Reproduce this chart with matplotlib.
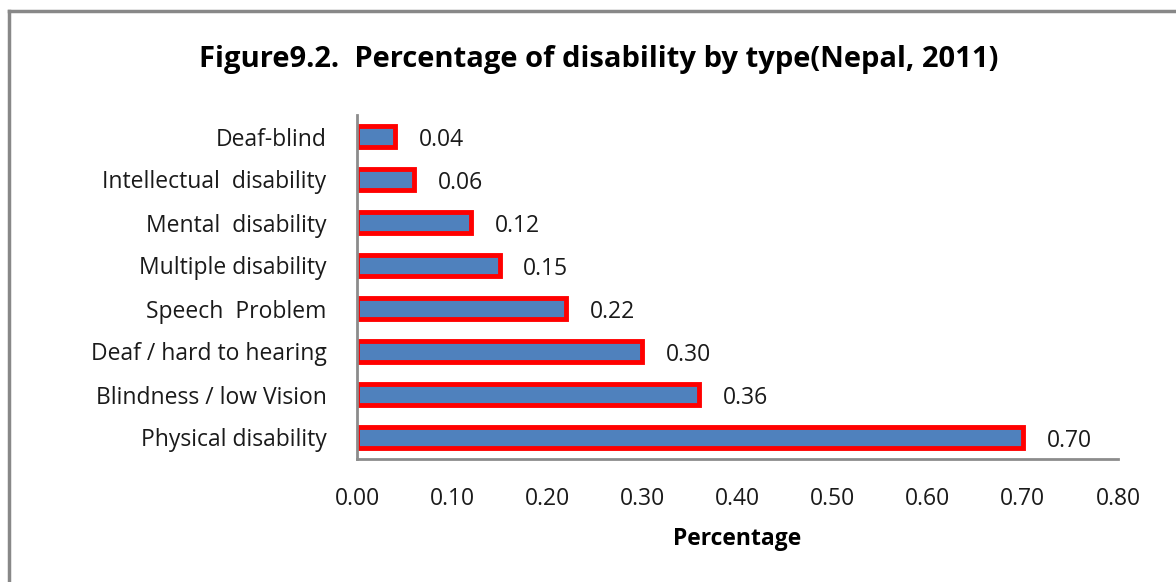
import matplotlib
matplotlib.use('Agg')
import matplotlib.pyplot as plt
from matplotlib.lines import Line2D

categories = ['Physical disability', 'Blindness / low Vision', 'Deaf / hard to hearing',
              'Speech  Problem', 'Multiple disability', 'Mental  disability',
              'Intellectual  disability', 'Deaf-blind']
values = [0.70, 0.36, 0.30, 0.22, 0.15, 0.12, 0.06, 0.04]
xticks = [0.0, 0.1, 0.2, 0.3, 0.4, 0.5, 0.6, 0.7, 0.8]

plt.rcParams['font.family'] = ['Open Sans', 'DejaVu Sans']

W, H = 1176, 582
fig = plt.figure(figsize=(W / 100, H / 100), dpi=100)
ax = fig.add_axes([357 / W, 1 - 459 / H, (1118 - 357) / W, (459 - 115) / H])

y = range(len(categories))
ax.barh(y, values, height=0.48, color='#4f81bd', edgecolor='#ff0000', linewidth=3.5)
for yi, v in zip(y, values):
    ax.annotate(f'{v:.2f}', (v, yi), xytext=(17, -2.5), textcoords='offset points',
                va='center', ha='left', fontsize=16.5, color='#1a1a1a')

ax.set_xlim(0, 0.8)
ax.set_ylim(-0.5, len(categories) - 0.5)
ax.set_yticks(list(y))
ax.set_yticklabels(categories, fontsize=16.5, color='#1a1a1a')
ax.set_xticks(xticks)
ax.set_xticklabels([f'{t:.2f}' for t in xticks], fontsize=16.5, color='#1a1a1a')
ax.tick_params(axis='both', length=0)
ax.tick_params(axis='y', pad=22)
ax.tick_params(axis='x', pad=20)
for s in ['top', 'right']:
    ax.spines[s].set_visible(False)
for s in ['left', 'bottom']:
    ax.spines[s].set_color('#8c8c8c')
    ax.spines[s].set_linewidth(2)
ax.set_xlabel('Percentage', fontsize=16.5, fontweight='bold', labelpad=12)

fig.text(599 / W, 1 - 60 / H, 'Figure9.2.  Percentage of disability by type(Nepal, 2011)',
         ha='center', va='center', fontsize=21, fontweight='bold')

# outer frame (left and top only visible)
fig.add_artist(Line2D([8.5 / W, 8.5 / W], [0, 1 - 11 / H], transform=fig.transFigure,
                      color='#888888', linewidth=2.5))
fig.add_artist(Line2D([8.5 / W, 1], [1 - 11 / H, 1 - 11 / H], transform=fig.transFigure,
                      color='#888888', linewidth=2.5))

fig.savefig('out.png', dpi=100)
